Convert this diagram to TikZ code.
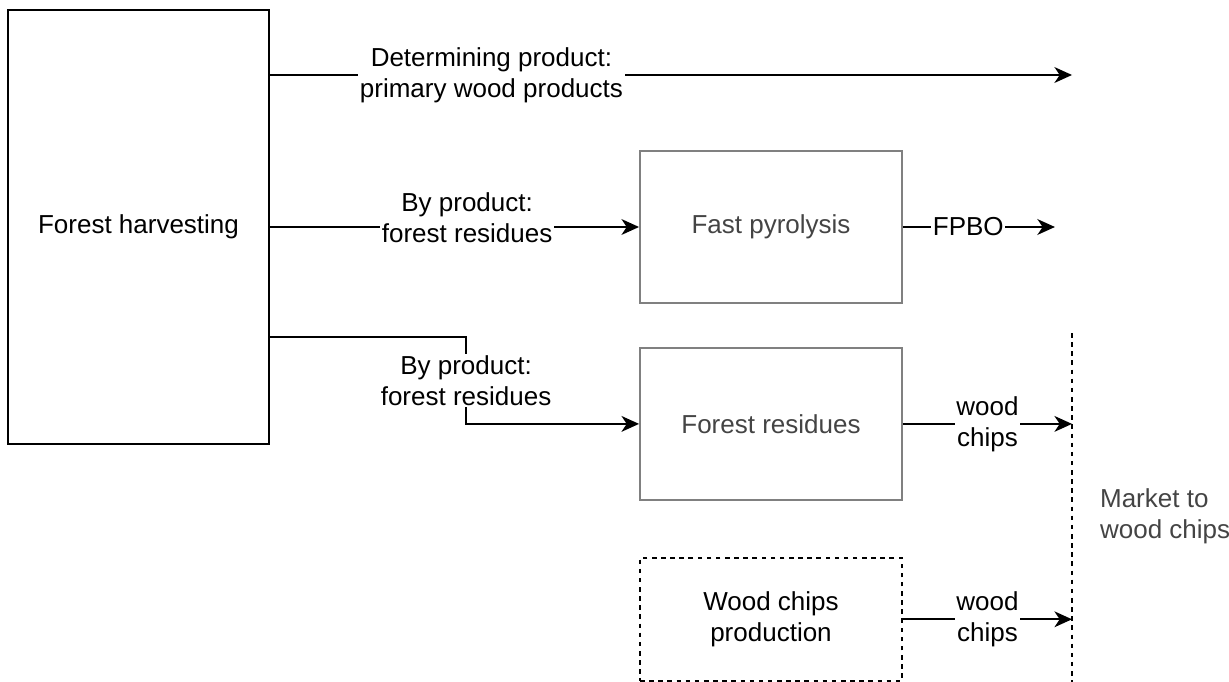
\documentclass[tikz,border=0pt]{standalone}
\usepackage{fontspec}
\setmainfont{Liberation Sans}
\usetikzlibrary{arrows.meta,positioning,calc}
\definecolor{boxgray}{RGB}{128,128,128}
\definecolor{txtgray}{RGB}{68,68,68}

\begin{document}
\begin{tikzpicture}[
  x=0.02cm, y=-0.02cm,
  font=\fontsize{14.8}{17.6}\selectfont,
  box/.style={rectangle, draw=#1, line width=1.1pt, align=center, inner sep=2pt,
              minimum width=5.24cm, minimum height=3.04cm},
  arr/.style={-{Stealth[length=10pt,width=9pt,inset=3pt]}, line width=1.1pt},
  lbl/.style={fill=white, align=center, inner sep=1pt},
  dsh/.style={dash pattern=on 2.6pt off 2.6pt, line width=1.1pt}
]
  \useasboundingbox (0,0) rectangle (1229,682);

  % Harvesting box
  \node[box=black, line width=1.3pt, minimum width=5.22cm, minimum height=8.68cm] (fh) at (138.5,227) {Forest harvesting};

  % Processing boxes
  \node[box=boxgray, text=txtgray, right=7.38cm of fh] (fp) {Fast pyrolysis};
  \node[box=boxgray, text=txtgray, below=0.86cm of fp] (fr) {Forest residues};
  \node[box=black, dsh, minimum height=2.46cm, below=1.12cm of fr] (wcp) {Wood chips\\production};

  % Market line
  \coordinate (mtop) at (1072,333);
  \coordinate (mbot) at (1072,682);
  \draw[dsh] (mtop) -- (mbot);
  \node[text=txtgray, align=left, anchor=west, inner sep=1pt] (mkt) at (1098,516) {Market to\\wood chips};

  % Free ends
  \coordinate (detend) at (1072,75);
  \coordinate (fpboend) at ($(fp.east)+(152,0)$);

  % Arrows
  \draw[arr] (fh.east |- detend) -- node[lbl, pos=0.276] {Determining product:\\primary wood products} (detend);
  \draw[arr] (fh.east |- fp.west) -- node[lbl, pos=0.534, yshift=0.18cm] {By product:\\forest residues} (fp.west);
  \draw[arr] ($(fh.east)+(0,110)$) -| node[lbl, pos=0.75] {By product:\\forest residues} ($(fr.west)+(-173,0)$) -- (fr.west);
  \draw[arr] (fp.east) -- node[lbl, pos=0.43] {FPBO} (fpboend);
  \draw[arr] (fr.east) -- node[lbl] {wood\\chips} (fr.east -| mtop);
  \draw[arr] (wcp.east) -- node[lbl] {wood\\chips} (wcp.east -| mtop);

\end{tikzpicture}
\end{document}
